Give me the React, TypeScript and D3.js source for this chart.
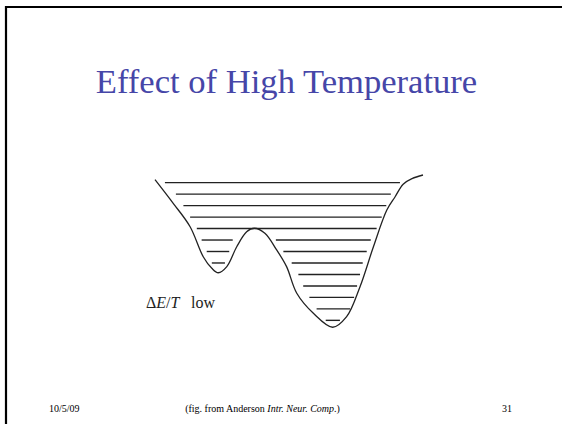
import React from 'react';
import * as d3 from 'd3';

// energy landscape: position along state axis (0..100) and energy (0..100)
const curveX = [0, 6.8, 13.1, 18.0, 21.2, 23.6, 26.8, 30.5, 34.2, 37.1, 41.0, 45.4, 49.1, 52.9, 59.1, 66.3, 71.5, 76.5, 81.5, 86.5, 89.6, 92.6, 95.9, 100];
const curveE = [97, 81.5, 66.2, 46.6, 39.0, 36.1, 40.1, 53.1, 62.9, 65.2, 61.9, 51.0, 40.1, 22.7, 9.6, 0.5, 7.4, 27.0, 53.1, 77.1, 85.8, 94.0, 97.6, 100];

// horizontal "occupied" levels: energy and the extents that are filled
const levelE = [95, 87.5, 80, 72.5, 65, 57.5, 57.5, 50, 50, 42.5, 42.5, 35, 27.5, 20, 12.5, 5];
const levelFrom = [3.7, 7.8, 10.6, 13.1, 15.6, 17.4, 45.1, 19.3, 47.9, 21.2, 51.0, 53.5, 55.3, 57.6, 60.3, 63.7];
const levelTo = [91.4, 88.0, 86.3, 84.6, 82.7, 29.0, 80.5, 27.7, 79.0, 26.1, 77.5, 76.5, 75.4, 74.3, 72.8, 69.0];

const title = "Effect of High Temperature";
const footerDate = "10/5/09";
const footerNum = "31";

const W = 562;
const H = 424;
const serif = "'Liberation Serif', 'Times New Roman', Times, serif";

const App = () => {
	const x = d3.scaleLinear().domain([0, 100]).range([155, 423]);
	const y = d3.scaleLinear().domain([0, 100]).range([328, 175]);

	const pts: [number, number][] = curveX.map((v, i) => [v, curveE[i]]);
	const line = d3.line<[number, number]>()
		.x(d => x(d[0]))
		.y(d => y(d[1]))
		.curve(d3.curveCatmullRom.alpha(0.5));

	return (
		<>
			<style>{'html,body{margin:0;overflow:hidden;background:#fff}'}</style>
			<svg width={W} height={H} style={{ position: 'absolute', left: 0, top: 0, display: 'block' }}>
				{/* slide frame (cropped) */}
				<line x1={6} y1={6} x2={6} y2={H} stroke="#000" strokeWidth={2.2} />
				<line x1={5} y1={7} x2={W} y2={7} stroke="#000" strokeWidth={2.2} />

				<text x={286.5} y={93} textAnchor="middle" fontFamily={serif} fontSize={34.6} fill="#4646a8">
					{title}
				</text>

				<g className="levels">
					{levelE.map((e, i) => (
						<line key={i}
							x1={x(levelFrom[i])} x2={x(levelTo[i])}
							y1={y(e)} y2={y(e)}
							stroke="#222" strokeWidth={1.4} />
					))}
				</g>
				<path d={line(pts) || ''} fill="none" stroke="#222" strokeWidth={1.3} />

				<text x={146} y={308} fontFamily={serif} fontSize={16} fill="#222">
					<tspan>Δ</tspan>
					<tspan fontStyle="italic">E</tspan>
					<tspan>/</tspan>
					<tspan fontStyle="italic">T</tspan>
					<tspan x={191}>low</tspan>
				</text>

				<g fontFamily={serif} fontSize={10} fill="#000">
					<text x={49} y={412}>{footerDate}</text>
					<text x={262.5} y={412} textAnchor="middle">
						(fig. from Anderson <tspan fontStyle="italic">Intr. Neur. Comp</tspan>.)
					</text>
					<text x={512} y={412} textAnchor="end">{footerNum}</text>
				</g>
			</svg>
		</>
	);
};

export default App;
